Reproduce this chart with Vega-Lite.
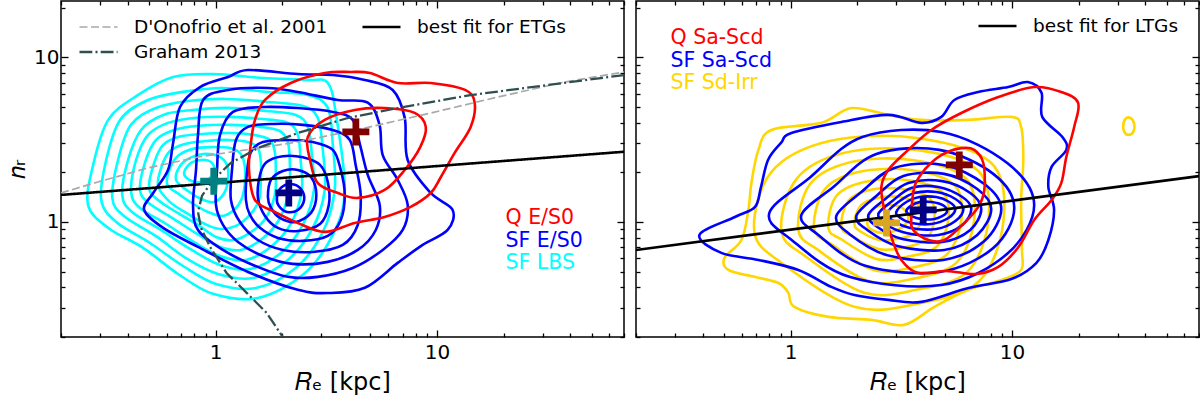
{
"$schema":"https://vega.github.io/schema/vega-lite/v6.json",
"background":"white",
"padding":{"left":4,"top":-3,"right":2,"bottom":0},
"spacing":8,
"config":{"font":"DejaVu Sans","view":{"stroke":"black","strokeWidth":1.5},
 "axis":{"labelFont":"DejaVu Sans","titleFont":"DejaVu Sans","labelColor":"black","titleColor":"black","tickColor":"black","tickWidth":1.3,"domain":false,"grid":false,"labelOverlap":false,"labelFlush":false,"titleFontWeight":"normal"},
 "legend":{"labelFont":"DejaVu Sans","labelColor":"black","padding":0,"labelLimit":0}},
"resolve":{"scale":{"color":"independent","stroke":"independent","strokeDash":"independent","strokeWidth":"independent","fill":"independent"},"legend":{"color":"independent","stroke":"independent","strokeDash":"independent"}},
"datasets":{
"lc":[
{"k":1,"x":0.265,"y":1.268},{"k":1,"x":0.2795,"y":2.22},{"k":1,"x":0.327,"y":4.17},{"k":1,"x":0.446,"y":5.91},{"k":1,"x":0.642,"y":7.6},{"k":1,"x":0.972,"y":7.92},{"k":1,"x":1.635,"y":7.5},{"k":1,"x":2.608,"y":7.3},{"k":1,"x":3.211,"y":7.0},{"k":1,"x":3.5,"y":4.47},{"k":1,"x":3.83,"y":1.564},{"k":1,"x":3.382,"y":0.834},{"k":1,"x":2.477,"y":0.477},{"k":1,"x":1.552,"y":0.345},{"k":1,"x":0.972,"y":0.366},{"k":1,"x":0.676,"y":0.483},{"k":1,"x":0.47,"y":0.696},{"k":1,"x":0.327,"y":0.92},
{"k":2,"x":0.304,"y":1.36},{"k":2,"x":0.32,"y":2.38},{"k":2,"x":0.37,"y":4.17},{"k":2,"x":0.495,"y":5.51},{"k":2,"x":0.712,"y":6.17},{"k":2,"x":1.079,"y":6.52},{"k":2,"x":1.722,"y":6.16},{"k":2,"x":2.608,"y":5.91},{"k":2,"x":3.211,"y":4.93},{"k":2,"x":3.382,"y":2.94},{"k":2,"x":3.45,"y":1.564},{"k":2,"x":3.048,"y":0.868},{"k":2,"x":2.3,"y":0.525},{"k":2,"x":1.52,"y":0.397},{"k":2,"x":1.003,"y":0.42},{"k":2,"x":0.712,"y":0.54},{"k":2,"x":0.505,"y":0.745},{"k":2,"x":0.355,"y":1.0},
{"k":3,"x":0.341,"y":1.4},{"k":3,"x":0.362,"y":2.38},{"k":3,"x":0.414,"y":3.89},{"k":3,"x":0.537,"y":4.92},{"k":3,"x":0.75,"y":5.43},{"k":3,"x":1.113,"y":5.59},{"k":3,"x":1.722,"y":5.36},{"k":3,"x":2.477,"y":5.07},{"k":3,"x":2.894,"y":4.29},{"k":3,"x":3.048,"y":2.74},{"k":3,"x":3.11,"y":1.564},{"k":3,"x":2.748,"y":0.92},{"k":3,"x":2.119,"y":0.588},{"k":3,"x":1.474,"y":0.456},{"k":3,"x":1.024,"y":0.483},{"k":3,"x":0.734,"y":0.603},{"k":3,"x":0.538,"y":0.82},{"k":3,"x":0.385,"y":1.088},
{"k":4,"x":0.378,"y":1.459},{"k":4,"x":0.402,"y":2.38},{"k":4,"x":0.46,"y":3.62},{"k":4,"x":0.579,"y":4.47},{"k":4,"x":0.79,"y":4.79},{"k":4,"x":1.137,"y":4.93},{"k":4,"x":1.686,"y":4.72},{"k":4,"x":2.3,"y":4.47},{"k":4,"x":2.608,"y":3.78},{"k":4,"x":2.72,"y":2.55},{"k":4,"x":2.78,"y":1.564},{"k":4,"x":2.477,"y":0.959},{"k":4,"x":1.97,"y":0.648},{"k":4,"x":1.43,"y":0.518},{"k":4,"x":1.045,"y":0.548},{"k":4,"x":0.766,"y":0.686},{"k":4,"x":0.566,"y":0.894},{"k":4,"x":0.419,"y":1.15},
{"k":5,"x":0.415,"y":1.52},{"k":5,"x":0.437,"y":2.38},{"k":5,"x":0.495,"y":3.38},{"k":5,"x":0.609,"y":4.0},{"k":5,"x":0.815,"y":4.3},{"k":5,"x":1.16,"y":4.35},{"k":5,"x":1.635,"y":4.22},{"k":5,"x":2.119,"y":4.0},{"k":5,"x":2.351,"y":3.38},{"k":5,"x":2.42,"y":2.38},{"k":5,"x":2.45,"y":1.564},{"k":5,"x":2.21,"y":1.0},{"k":5,"x":1.795,"y":0.715},{"k":5,"x":1.37,"y":0.588},{"k":5,"x":1.045,"y":0.621},{"k":5,"x":0.798,"y":0.755},{"k":5,"x":0.597,"y":0.972},{"k":5,"x":0.455,"y":1.215},
{"k":6,"x":0.455,"y":1.564},{"k":6,"x":0.48,"y":2.31},{"k":6,"x":0.538,"y":3.15},{"k":6,"x":0.649,"y":3.62},{"k":6,"x":0.841,"y":3.84},{"k":6,"x":1.17,"y":3.89},{"k":6,"x":1.585,"y":3.78},{"k":6,"x":1.95,"y":3.57},{"k":6,"x":2.119,"y":3.06},{"k":6,"x":2.165,"y":2.22},{"k":6,"x":2.14,"y":1.52},{"k":6,"x":1.93,"y":1.028},{"k":6,"x":1.618,"y":0.788},{"k":6,"x":1.3,"y":0.676},{"k":6,"x":1.035,"y":0.71},{"k":6,"x":0.824,"y":0.846},{"k":6,"x":0.635,"y":1.06},{"k":6,"x":0.5,"y":1.3},
{"k":7,"x":0.5,"y":1.61},{"k":7,"x":0.527,"y":2.28},{"k":7,"x":0.579,"y":2.94},{"k":7,"x":0.683,"y":3.29},{"k":7,"x":0.867,"y":3.42},{"k":7,"x":1.16,"y":3.47},{"k":7,"x":1.488,"y":3.38},{"k":7,"x":1.757,"y":3.15},{"k":7,"x":1.85,"y":2.66},{"k":7,"x":1.87,"y":2.01},{"k":7,"x":1.85,"y":1.459},{"k":7,"x":1.686,"y":1.058},{"k":7,"x":1.443,"y":0.868},{"k":7,"x":1.21,"y":0.777},{"k":7,"x":1.003,"y":0.81},{"k":7,"x":0.832,"y":0.959},{"k":7,"x":0.676,"y":1.13},{"k":7,"x":0.549,"y":1.36},
{"k":8,"x":0.549,"y":1.66},{"k":8,"x":0.573,"y":2.22},{"k":8,"x":0.622,"y":2.7},{"k":8,"x":0.719,"y":2.97},{"k":8,"x":0.886,"y":3.09},{"k":8,"x":1.137,"y":3.15},{"k":8,"x":1.399,"y":3.06},{"k":8,"x":1.552,"y":2.81},{"k":8,"x":1.6,"y":2.32},{"k":8,"x":1.6,"y":1.8},{"k":8,"x":1.57,"y":1.36},{"k":8,"x":1.428,"y":1.103},{"k":8,"x":1.235,"y":0.946},{"k":8,"x":1.045,"y":0.907},{"k":8,"x":0.895,"y":0.972},{"k":8,"x":0.75,"y":1.12},{"k":8,"x":0.622,"y":1.32},
{"k":9,"x":0.603,"y":1.7},{"k":9,"x":0.628,"y":2.19},{"k":9,"x":0.683,"y":2.55},{"k":9,"x":0.79,"y":2.78},{"k":9,"x":0.952,"y":2.85},{"k":9,"x":1.16,"y":2.81},{"k":9,"x":1.3,"y":2.58},{"k":9,"x":1.356,"y":2.15},{"k":9,"x":1.356,"y":1.73},{"k":9,"x":1.31,"y":1.38},{"k":9,"x":1.21,"y":1.183},{"k":9,"x":1.067,"y":1.088},{"k":9,"x":0.923,"y":1.15},{"k":9,"x":0.79,"y":1.29},{"k":9,"x":0.676,"y":1.49},
{"k":10,"x":0.662,"y":1.8},{"k":10,"x":0.69,"y":2.19},{"k":10,"x":0.766,"y":2.45},{"k":10,"x":0.877,"y":2.59},{"k":10,"x":1.024,"y":2.52},{"k":10,"x":1.125,"y":2.22},{"k":10,"x":1.137,"y":1.8},{"k":10,"x":1.09,"y":1.49},{"k":10,"x":0.982,"y":1.32},{"k":10,"x":0.858,"y":1.38},{"k":10,"x":0.75,"y":1.54},
{"k":11,"x":0.72,"y":2.0},{"k":11,"x":0.78,"y":2.3},{"k":11,"x":0.9,"y":2.38},{"k":11,"x":0.98,"y":2.2},{"k":11,"x":0.96,"y":1.9},{"k":11,"x":0.85,"y":1.75},{"k":11,"x":0.76,"y":1.8}
],
"lb":[
{"k":1,"x":0.475,"y":1.183},{"k":1,"x":0.522,"y":1.5},{"k":1,"x":0.609,"y":2.07},{"k":1,"x":0.642,"y":3.02},{"k":1,"x":0.69,"y":4.99},{"k":1,"x":0.85,"y":6.6},{"k":1,"x":1.137,"y":7.6},{"k":1,"x":1.399,"y":8.38},{"k":1,"x":2.351,"y":7.92},{"k":1,"x":3.382,"y":7.81},{"k":1,"x":4.72,"y":7.29},{"k":1,"x":6.309,"y":6.34},{"k":1,"x":7.15,"y":4.29},{"k":1,"x":7.373,"y":2.38},{"k":1,"x":9.37,"y":1.5},{"k":1,"x":11.77,"y":1.183},{"k":1,"x":11.17,"y":0.894},{"k":1,"x":8.616,"y":0.725},{"k":1,"x":6.645,"y":0.564},{"k":1,"x":4.72,"y":0.398},{"k":1,"x":3.211,"y":0.37},{"k":1,"x":2.351,"y":0.387},{"k":1,"x":1.399,"y":0.497},{"k":1,"x":0.832,"y":0.705},{"k":1,"x":0.579,"y":0.92},
{"k":2,"x":0.79,"y":1.268},{"k":2,"x":0.815,"y":2.07},{"k":2,"x":0.832,"y":3.38},{"k":2,"x":0.877,"y":5.51},{"k":2,"x":1.137,"y":6.34},{"k":2,"x":1.722,"y":6.52},{"k":2,"x":2.351,"y":6.16},{"k":2,"x":3.563,"y":5.51},{"k":2,"x":4.866,"y":5.31},{"k":2,"x":5.5,"y":3.89},{"k":2,"x":5.686,"y":2.55},{"k":2,"x":6.645,"y":1.8},{"k":2,"x":7.373,"y":1.268},{"k":2,"x":7.0,"y":0.894},{"k":2,"x":5.686,"y":0.676},{"k":2,"x":4.163,"y":0.525},{"k":2,"x":2.894,"y":0.464},{"k":2,"x":2.119,"y":0.464},{"k":2,"x":1.474,"y":0.548},{"k":2,"x":1.079,"y":0.676},{"k":2,"x":0.832,"y":0.894},
{"k":3,"x":1.003,"y":1.268},{"k":3,"x":1.014,"y":2.07},{"k":3,"x":1.046,"y":3.38},{"k":3,"x":1.197,"y":4.66},{"k":3,"x":1.635,"y":4.99},{"k":3,"x":2.351,"y":4.92},{"k":3,"x":3.382,"y":4.66},{"k":3,"x":4.163,"y":4.17},{"k":3,"x":4.49,"y":2.94},{"k":3,"x":4.866,"y":1.93},{"k":3,"x":5.51,"y":1.268},{"k":3,"x":5.29,"y":0.894},{"k":3,"x":4.385,"y":0.676},{"k":3,"x":3.211,"y":0.572},{"k":3,"x":2.232,"y":0.556},{"k":3,"x":1.635,"y":0.621},{"k":3,"x":1.261,"y":0.756},{"k":3,"x":1.079,"y":0.959},
{"k":4,"x":1.172,"y":1.36},{"k":4,"x":1.185,"y":2.07},{"k":4,"x":1.235,"y":3.15},{"k":4,"x":1.399,"y":3.78},{"k":4,"x":1.814,"y":3.94},{"k":4,"x":2.477,"y":3.89},{"k":4,"x":3.382,"y":3.62},{"k":4,"x":4.037,"y":3.15},{"k":4,"x":4.29,"y":2.22},{"k":4,"x":4.52,"y":1.459},{"k":4,"x":4.385,"y":0.959},{"k":4,"x":3.752,"y":0.725},{"k":4,"x":2.748,"y":0.657},{"k":4,"x":2.012,"y":0.676},{"k":4,"x":1.552,"y":0.777},{"k":4,"x":1.287,"y":1.0},
{"k":5,"x":1.37,"y":1.36},{"k":5,"x":1.385,"y":2.01},{"k":5,"x":1.443,"y":2.66},{"k":5,"x":1.635,"y":3.06},{"k":5,"x":2.119,"y":3.15},{"k":5,"x":2.748,"y":3.06},{"k":5,"x":3.382,"y":2.74},{"k":5,"x":3.675,"y":2.07},{"k":5,"x":3.83,"y":1.459},{"k":5,"x":3.675,"y":1.028},{"k":5,"x":3.211,"y":0.822},{"k":5,"x":2.477,"y":0.767},{"k":5,"x":1.91,"y":0.8},{"k":5,"x":1.585,"y":0.921},{"k":5,"x":1.428,"y":1.103},
{"k":6,"x":1.552,"y":1.4},{"k":6,"x":1.585,"y":1.93},{"k":6,"x":1.7,"y":2.31},{"k":6,"x":2.012,"y":2.51},{"k":6,"x":2.477,"y":2.47},{"k":6,"x":2.96,"y":2.22},{"k":6,"x":3.211,"y":1.75},{"k":6,"x":3.245,"y":1.268},{"k":6,"x":2.96,"y":0.972},{"k":6,"x":2.351,"y":0.881},{"k":6,"x":1.91,"y":0.92},{"k":6,"x":1.67,"y":1.088},
{"k":7,"x":1.722,"y":1.42},{"k":7,"x":1.777,"y":1.8},{"k":7,"x":2.012,"y":2.04},{"k":7,"x":2.351,"y":2.07},{"k":7,"x":2.7,"y":1.87},{"k":7,"x":2.85,"y":1.459},{"k":7,"x":2.7,"y":1.14},{"k":7,"x":2.3,"y":1.0},{"k":7,"x":1.95,"y":1.058},{"k":7,"x":1.777,"y":1.22},
{"k":8,"x":1.89,"y":1.4},{"k":8,"x":1.97,"y":1.61},{"k":8,"x":2.19,"y":1.7},{"k":8,"x":2.43,"y":1.585},{"k":8,"x":2.51,"y":1.36},{"k":8,"x":2.351,"y":1.183},{"k":8,"x":2.1,"y":1.15},{"k":8,"x":1.93,"y":1.25}
],
"lr":[
{"k":1,"x":1.443,"y":3.02},{"k":1,"x":1.505,"y":4.17},{"k":1,"x":1.67,"y":5.51},{"k":1,"x":2.186,"y":6.99},{"k":1,"x":3.11,"y":8.03},{"k":1,"x":4.07,"y":8.15},{"k":1,"x":4.98,"y":8.03},{"k":1,"x":6.645,"y":6.99},{"k":1,"x":9.37,"y":6.99},{"k":1,"x":13.4,"y":6.34},{"k":1,"x":14.8,"y":5.29},{"k":1,"x":14.2,"y":3.78},{"k":1,"x":12.0,"y":2.62},{"k":1,"x":10.4,"y":1.87},{"k":1,"x":9.37,"y":1.5},{"k":1,"x":7.6,"y":1.234},{"k":1,"x":5.8,"y":1.072},{"k":1,"x":4.25,"y":0.986},{"k":1,"x":3.11,"y":0.87},{"k":1,"x":2.351,"y":0.986},{"k":1,"x":1.85,"y":1.15},{"k":1,"x":1.505,"y":1.36},{"k":1,"x":1.414,"y":2.07},
{"k":2,"x":2.608,"y":3.28},{"k":2,"x":3.11,"y":4.17},{"k":2,"x":4.25,"y":4.79},{"k":2,"x":5.8,"y":4.92},{"k":2,"x":7.93,"y":4.6},{"k":2,"x":8.9,"y":3.78},{"k":2,"x":8.4,"y":2.85},{"k":2,"x":7.15,"y":2.07},{"k":2,"x":5.8,"y":1.564},{"k":2,"x":4.385,"y":1.4},{"k":2,"x":3.563,"y":1.5},{"k":2,"x":2.894,"y":1.72},{"k":2,"x":2.67,"y":2.38}
],
"ll":[
{"ln":"D'Onofrio et al. 2001","x":0.2,"y":1.5},{"ln":"D'Onofrio et al. 2001","x":0.294,"y":1.75},{"ln":"D'Onofrio et al. 2001","x":0.495,"y":2.13},{"ln":"D'Onofrio et al. 2001","x":0.832,"y":2.48},{"ln":"D'Onofrio et al. 2001","x":2.35,"y":3.06},{"ln":"D'Onofrio et al. 2001","x":4.72,"y":3.72},{"ln":"D'Onofrio et al. 2001","x":9.37,"y":4.59},{"ln":"D'Onofrio et al. 2001","x":18.8,"y":5.74},{"ln":"D'Onofrio et al. 2001","x":37.7,"y":7.08},{"ln":"D'Onofrio et al. 2001","x":70,"y":8.15},
{"ln":"Graham 2013","x":70,"y":7.81},{"ln":"Graham 2013","x":14.2,"y":5.9},{"ln":"Graham 2013","x":6.65,"y":4.92},{"ln":"Graham 2013","x":3.95,"y":4.28},{"ln":"Graham 2013","x":2.35,"y":3.47},{"ln":"Graham 2013","x":1.55,"y":2.81},{"ln":"Graham 2013","x":1.17,"y":2.28},{"ln":"Graham 2013","x":0.972,"y":1.8},{"ln":"Graham 2013","x":0.867,"y":1.44},{"ln":"Graham 2013","x":0.832,"y":1.15},{"ln":"Graham 2013","x":0.858,"y":0.92},{"ln":"Graham 2013","x":0.943,"y":0.705},{"ln":"Graham 2013","x":1.12,"y":0.49},{"ln":"Graham 2013","x":1.38,"y":0.371},{"ln":"Graham 2013","x":1.7,"y":0.28},{"ln":"Graham 2013","x":2.01,"y":0.2},
{"ln":"best fit for ETGs","x":0.2,"y":1.46},{"ln":"best fit for ETGs","x":70,"y":2.67}
],
"lx":[{"g":"SF LBS","x":0.98,"y":1.77},{"g":"SF E/S0","x":2.14,"y":1.5},{"g":"Q E/S0","x":4.3,"y":3.52}],
"ry":[
{"k":1,"x":0.502,"y":0.605},{"k":1,"x":0.599,"y":0.777},{"k":1,"x":0.644,"y":1.183},{"k":1,"x":0.6645,"y":1.725},{"k":1,"x":0.715,"y":2.74},{"k":1,"x":0.818,"y":3.62},{"k":1,"x":1.376,"y":4.0},{"k":1,"x":1.88,"y":4.92},{"k":1,"x":2.76,"y":4.47},{"k":1,"x":3.893,"y":4.17},{"k":1,"x":6.35,"y":4.17},{"k":1,"x":9.93,"y":4.35},{"k":1,"x":11.0,"y":3.78},{"k":1,"x":11.25,"y":2.38},{"k":1,"x":11.0,"y":1.36},{"k":1,"x":11.1,"y":0.676},{"k":1,"x":11.0,"y":0.511},{"k":1,"x":8.946,"y":0.444},{"k":1,"x":6.35,"y":0.387},{"k":1,"x":4.46,"y":0.305},{"k":1,"x":3.26,"y":0.237},{"k":1,"x":2.315,"y":0.254},{"k":1,"x":1.48,"y":0.265},{"k":1,"x":1.039,"y":0.305},{"k":1,"x":0.976,"y":0.371},{"k":1,"x":0.88,"y":0.426},{"k":1,"x":0.686,"y":0.464},{"k":1,"x":0.523,"y":0.511},
{"k":2,"x":0.686,"y":0.869},{"k":2,"x":0.818,"y":2.01},{"k":2,"x":1.496,"y":3.1},{"k":2,"x":3.7,"y":3.24},{"k":2,"x":8.06,"y":2.28},{"k":2,"x":9.14,"y":1.0},{"k":2,"x":7.04,"y":0.432},{"k":2,"x":3.7,"y":0.318},{"k":2,"x":1.94,"y":0.305},{"k":2,"x":0.937,"y":0.548},
{"k":3,"x":0.908,"y":0.882},{"k":3,"x":1.061,"y":1.82},{"k":3,"x":1.73,"y":2.62},{"k":3,"x":3.7,"y":2.74},{"k":3,"x":7.04,"y":2.04},{"k":3,"x":7.82,"y":1.014},{"k":3,"x":6.28,"y":0.497},{"k":3,"x":3.7,"y":0.387},{"k":3,"x":2.152,"y":0.371},{"k":3,"x":1.177,"y":0.613},
{"k":4,"x":1.083,"y":0.894},{"k":4,"x":1.225,"y":1.7},{"k":4,"x":1.88,"y":2.31},{"k":4,"x":3.54,"y":2.38},{"k":4,"x":6.15,"y":1.85},{"k":4,"x":6.75,"y":1.028},{"k":4,"x":5.6,"y":0.564},{"k":4,"x":3.54,"y":0.45},{"k":4,"x":2.244,"y":0.438},{"k":4,"x":1.348,"y":0.667},
{"k":5,"x":1.277,"y":0.907},{"k":5,"x":1.417,"y":1.564},{"k":5,"x":2.018,"y":2.01},{"k":5,"x":3.47,"y":2.07},{"k":5,"x":5.49,"y":1.68},{"k":5,"x":5.902,"y":1.028},{"k":5,"x":5.05,"y":0.63},{"k":5,"x":3.47,"y":0.525},{"k":5,"x":2.363,"y":0.511},{"k":5,"x":1.543,"y":0.725},
{"k":6,"x":1.48,"y":0.92},{"k":6,"x":1.608,"y":1.438},{"k":6,"x":2.152,"y":1.75},{"k":6,"x":3.33,"y":1.8},{"k":6,"x":4.84,"y":1.52},{"k":6,"x":5.16,"y":1.043},{"k":6,"x":4.55,"y":0.705},{"k":6,"x":3.33,"y":0.613},{"k":6,"x":2.438,"y":0.596},{"k":6,"x":1.712,"y":0.777},
{"k":7,"x":1.694,"y":0.946},{"k":7,"x":1.82,"y":1.341},{"k":7,"x":2.267,"y":1.564},{"k":7,"x":3.162,"y":1.585},{"k":7,"x":4.23,"y":1.4},{"k":7,"x":4.46,"y":1.043},{"k":7,"x":4.06,"y":0.777},{"k":7,"x":3.162,"y":0.695},{"k":7,"x":2.49,"y":0.686},{"k":7,"x":1.88,"y":0.822},
{"k":8,"x":1.94,"y":0.972},{"k":8,"x":2.064,"y":1.25},{"k":8,"x":2.464,"y":1.4},{"k":8,"x":3.097,"y":1.417},{"k":8,"x":3.735,"y":1.286},{"k":8,"x":3.893,"y":1.057},{"k":8,"x":3.62,"y":0.858},{"k":8,"x":3.03,"y":0.788},{"k":8,"x":2.515,"y":0.777},{"k":8,"x":2.086,"y":0.869},
{"k":9,"x":2.22,"y":1.0},{"k":9,"x":2.363,"y":1.2},{"k":9,"x":2.734,"y":1.268},{"k":9,"x":3.196,"y":1.216},{"k":9,"x":3.4,"y":1.043},{"k":9,"x":3.097,"y":0.907},{"k":9,"x":2.623,"y":0.858},{"k":9,"x":2.29,"y":0.907},
{"k":10,"x":31.8,"y":3.83},{"k":10,"x":32.5,"y":4.22},{"k":10,"x":34.2,"y":4.29},{"k":10,"x":35.7,"y":3.94},{"k":10,"x":35.3,"y":3.52},{"k":10,"x":33.5,"y":3.38},{"k":10,"x":32.2,"y":3.52}
],
"rb":[
{"k":1,"x":0.387,"y":0.834},{"k":1,"x":0.56,"y":1.072},{"k":1,"x":0.69,"y":1.234},{"k":1,"x":0.734,"y":1.63},{"k":1,"x":0.79,"y":2.38},{"k":1,"x":0.904,"y":3.02},{"k":1,"x":1.007,"y":3.47},{"k":1,"x":1.694,"y":4.05},{"k":1,"x":2.76,"y":4.47},{"k":1,"x":3.893,"y":4.0},{"k":1,"x":4.793,"y":4.35},{"k":1,"x":5.49,"y":5.51},{"k":1,"x":7.04,"y":6.16},{"k":1,"x":9.62,"y":6.6},{"k":1,"x":11.8,"y":7.08},{"k":1,"x":13.6,"y":6.1},{"k":1,"x":13.7,"y":4.35},{"k":1,"x":16.9,"y":3.28},{"k":1,"x":17.6,"y":2.74},{"k":1,"x":15.1,"y":2.16},{"k":1,"x":14.6,"y":1.63},{"k":1,"x":15.5,"y":1.183},{"k":1,"x":14.6,"y":0.777},{"k":1,"x":12.9,"y":0.564},{"k":1,"x":9.93,"y":0.45},{"k":1,"x":6.35,"y":0.397},{"k":1,"x":3.893,"y":0.327},{"k":1,"x":2.76,"y":0.336},{"k":1,"x":1.94,"y":0.36},{"k":1,"x":1.527,"y":0.403},{"k":1,"x":1.083,"y":0.511},{"k":1,"x":0.715,"y":0.588},{"k":1,"x":0.486,"y":0.649},
{"k":2,"x":0.801,"y":1.134},{"k":2,"x":1.215,"y":1.85},{"k":2,"x":2.107,"y":3.28},{"k":2,"x":4.793,"y":3.52},{"k":2,"x":9.52,"y":2.28},{"k":2,"x":12.6,"y":1.268},{"k":2,"x":9.52,"y":0.64},{"k":2,"x":4.793,"y":0.414},{"k":2,"x":1.84,"y":0.464},{"k":2,"x":0.997,"y":0.788},
{"k":3,"x":1.118,"y":1.103},{"k":3,"x":1.559,"y":1.63},{"k":3,"x":2.438,"y":2.59},{"k":3,"x":4.7,"y":2.74},{"k":3,"x":8.23,"y":1.96},{"k":3,"x":10.24,"y":1.216},{"k":3,"x":8.23,"y":0.695},{"k":3,"x":4.7,"y":0.497},{"k":3,"x":2.175,"y":0.541},{"k":3,"x":1.334,"y":0.834},
{"k":4,"x":1.608,"y":1.088},{"k":4,"x":2.086,"y":1.52},{"k":4,"x":2.94,"y":2.13},{"k":4,"x":4.89,"y":2.22},{"k":4,"x":7.5,"y":1.7},{"k":4,"x":8.946,"y":1.2},{"k":4,"x":7.5,"y":0.767},{"k":4,"x":4.89,"y":0.588},{"k":4,"x":2.71,"y":0.63},{"k":4,"x":1.841,"y":0.846},
{"k":5,"x":1.98,"y":1.088},{"k":5,"x":2.438,"y":1.438},{"k":5,"x":3.23,"y":1.9},{"k":5,"x":4.94,"y":1.96},{"k":5,"x":6.97,"y":1.585},{"k":5,"x":8.06,"y":1.2},{"k":5,"x":6.97,"y":0.834},{"k":5,"x":4.94,"y":0.676},{"k":5,"x":3.03,"y":0.715},{"k":5,"x":2.22,"y":0.894},
{"k":6,"x":2.244,"y":1.103},{"k":6,"x":2.677,"y":1.379},{"k":6,"x":3.4,"y":1.725},{"k":6,"x":4.84,"y":1.77},{"k":6,"x":6.48,"y":1.5},{"k":6,"x":7.265,"y":1.2},{"k":6,"x":6.48,"y":0.894},{"k":6,"x":4.84,"y":0.756},{"k":6,"x":3.196,"y":0.788},{"k":6,"x":2.464,"y":0.932},
{"k":7,"x":2.49,"y":1.118},{"k":7,"x":2.88,"y":1.341},{"k":7,"x":3.509,"y":1.61},{"k":7,"x":4.65,"y":1.63},{"k":7,"x":5.965,"y":1.417},{"k":7,"x":6.549,"y":1.2},{"k":7,"x":5.965,"y":0.959},{"k":7,"x":4.65,"y":0.834},{"k":7,"x":3.33,"y":0.858},{"k":7,"x":2.677,"y":0.972},
{"k":8,"x":2.734,"y":1.134},{"k":8,"x":3.064,"y":1.322},{"k":8,"x":3.62,"y":1.5},{"k":8,"x":4.55,"y":1.52},{"k":8,"x":5.55,"y":1.379},{"k":8,"x":6.03,"y":1.2},{"k":8,"x":5.55,"y":1.014},{"k":8,"x":4.55,"y":0.907},{"k":8,"x":3.47,"y":0.92},{"k":8,"x":2.91,"y":1.014},
{"k":9,"x":3.0,"y":1.15},{"k":9,"x":3.33,"y":1.322},{"k":9,"x":3.81,"y":1.417},{"k":9,"x":4.55,"y":1.417},{"k":9,"x":5.21,"y":1.322},{"k":9,"x":5.55,"y":1.2},{"k":9,"x":5.16,"y":1.057},{"k":9,"x":4.32,"y":0.972},{"k":9,"x":3.509,"y":0.986},{"k":9,"x":3.13,"y":1.057},
{"k":10,"x":3.33,"y":1.166},{"k":10,"x":3.7,"y":1.304},{"k":10,"x":4.32,"y":1.322},{"k":10,"x":4.94,"y":1.25},{"k":10,"x":5.05,"y":1.134},{"k":10,"x":4.46,"y":1.043},{"k":10,"x":3.7,"y":1.057}
],
"rr":[
{"k":1,"x":2.568,"y":1.63},{"k":1,"x":2.76,"y":2.07},{"k":1,"x":3.4,"y":2.74},{"k":1,"x":4.32,"y":3.62},{"k":1,"x":5.902,"y":4.59},{"k":1,"x":8.67,"y":5.74},{"k":1,"x":12.6,"y":6.6},{"k":1,"x":16.7,"y":6.16},{"k":1,"x":19.9,"y":5.29},{"k":1,"x":19.1,"y":3.78},{"k":1,"x":17.6,"y":2.48},{"k":1,"x":16.7,"y":1.72},{"k":1,"x":15.1,"y":1.36},{"k":1,"x":12.6,"y":1.028},{"k":1,"x":10.7,"y":0.705},{"k":1,"x":8.67,"y":0.533},{"k":1,"x":6.89,"y":0.483},{"k":1,"x":5.05,"y":0.504},{"k":1,"x":3.77,"y":0.49},{"k":1,"x":3.162,"y":0.588},{"k":1,"x":2.85,"y":0.81},{"k":1,"x":2.65,"y":1.183},
{"k":2,"x":3.509,"y":1.072},{"k":2,"x":3.62,"y":1.63},{"k":2,"x":4.02,"y":2.07},{"k":2,"x":4.793,"y":2.55},{"k":2,"x":5.902,"y":2.81},{"k":2,"x":6.75,"y":2.74},{"k":2,"x":7.42,"y":2.28},{"k":2,"x":7.5,"y":1.564},{"k":2,"x":7.04,"y":1.234},{"k":2,"x":6.09,"y":0.986},{"k":2,"x":4.95,"y":0.777},{"k":2,"x":4.19,"y":0.777},{"k":2,"x":3.58,"y":0.894}
],
"rl":[{"ln":"best fit for LTGs","x":0.2,"y":0.676},{"ln":"best fit for LTGs","x":70,"y":1.9}],
"rx":[{"g":"SF Sd-Irr","x":2.71,"y":0.986},{"g":"SF Sa-Scd","x":3.97,"y":1.183},{"g":"Q Sa-Scd","x":5.78,"y":2.22}]
},
"hconcat":[
{"width":563,"height":336,
 "resolve":{"axis":{"x":"independent","y":"independent"}},
 "layer":[
  {"data":{"name":"lc"},"mark":{"type":"line","interpolate":"cardinal-closed","strokeWidth":2.6,"clip":true},
   "encoding":{
    "x":{"field":"x","type":"quantitative","scale":{"type":"log","domain":[0.2,70],"nice":false},
      "axis":{"orient":"bottom","values":[0.2,0.3,0.4,0.5,0.6,0.7,0.8,0.9,1,2,3,4,5,6,7,8,9,10,20,30,40,50,60,70],"labelExpr":"datum.value == 1 ? '1' : datum.value == 10 ? '10' : ''","tickSize":{"condition":{"test":"datum.value == 1 || datum.value == 10","value":-7},"value":-4},"labelFontSize":20,"labelPadding":12,"title":"𝑅ₑ [kpc]","titleFontSize":24,"titlePadding":5}},
    "y":{"field":"y","type":"quantitative","scale":{"type":"log","domain":[0.2,22],"nice":false},
      "axis":{"orient":"left","values":[0.2,0.3,0.4,0.5,0.6,0.7,0.8,0.9,1,2,3,4,5,6,7,8,9,10,20],"labelExpr":"datum.value == 1 ? '1' : datum.value == 10 ? '10' : ''","tickSize":{"condition":{"test":"datum.value == 1 || datum.value == 10","value":-7},"value":-4},"labelFontSize":20,"labelPadding":9,"title":"𝑛ᵣ","titleFontSize":24,"titlePadding":4}},
    "detail":{"field":"k","type":"nominal"},
    "order":{"value":null},
    "color":{"datum":"SF LBS","type":"nominal","scale":{"domain":["Q E/S0","SF E/S0","SF LBS"],"range":["#ff0000","#0000ff","#00ffff"]},
      "legend":{"orient":"none","legendX":424,"legendY":207,"title":null,"symbolOpacity":0,"symbolSize":1,"symbolStrokeWidth":0,"labelOffset":0,"labelFontSize":20.5,"rowPadding":1.5,"labelColor":{"expr":"datum.label == 'Q E/S0' ? '#ff0000' : datum.label == 'SF E/S0' ? '#0000ff' : '#00ffff'"}}}
   }},
  {"data":{"name":"lb"},"mark":{"type":"line","interpolate":"cardinal-closed","strokeWidth":2.6,"clip":true},
   "encoding":{
    "x":{"field":"x","type":"quantitative","scale":{"type":"log","domain":[0.2,70],"nice":false},
      "axis":{"orient":"top","values":[0.2,0.3,0.4,0.5,0.6,0.7,0.8,0.9,1,2,3,4,5,6,7,8,9,10,20,30,40,50,60,70],"labels":false,"minExtent":0,"maxExtent":0,"tickSize":{"condition":{"test":"datum.value == 1 || datum.value == 10","value":-7},"value":-4},"title":null}},
    "y":{"field":"y","type":"quantitative","scale":{"type":"log","domain":[0.2,22],"nice":false},
      "axis":{"orient":"right","values":[0.2,0.3,0.4,0.5,0.6,0.7,0.8,0.9,1,2,3,4,5,6,7,8,9,10,20],"labels":false,"minExtent":0,"maxExtent":0,"tickSize":{"condition":{"test":"datum.value == 1 || datum.value == 10","value":-7},"value":-4},"title":null}},
    "detail":{"field":"k","type":"nominal"},
    "order":{"value":null},
    "color":{"datum":"SF E/S0","type":"nominal"}
   }},
  {"data":{"name":"lr"},"mark":{"type":"line","interpolate":"cardinal-closed","strokeWidth":2.6,"clip":true},
   "encoding":{
    "x":{"field":"x","type":"quantitative","axis":null},
    "y":{"field":"y","type":"quantitative","axis":null},
    "detail":{"field":"k","type":"nominal"},
    "order":{"value":null},
    "color":{"datum":"Q E/S0","type":"nominal"}
   }},
  {"data":{"name":"ll"},"mark":{"type":"line","clip":true},
   "encoding":{
    "x":{"field":"x","type":"quantitative","axis":null},
    "y":{"field":"y","type":"quantitative","axis":null},
    "order":{"value":null},
    "stroke":{"field":"ln","type":"nominal","scale":{"domain":["D'Onofrio et al. 2001","Graham 2013","best fit for ETGs"],"range":["#a9a9a9","#2f4f4f","#000000"]},
      "legend":{"orient":"none","legendX":17,"legendY":16,"title":null,"columns":2,"columnPadding":33,"rowPadding":5,"clipHeight":20,"symbolType":"stroke","symbolSize":1444,"symbolStrokeWidth":2.2,"labelFontSize":18.5,"labelOffset":15}},
    "strokeDash":{"field":"ln","type":"nominal","scale":{"domain":["D'Onofrio et al. 2001","Graham 2013","best fit for ETGs"],"range":[[8,3.5],[12.8,3.2,2,3.2],[1,0]]}},
    "strokeWidth":{"field":"ln","type":"nominal","scale":{"type":"ordinal","domain":["D'Onofrio et al. 2001","Graham 2013","best fit for ETGs"],"range":[1.7,2.3,2.6]},"legend":null}
   }},
  {"data":{"name":"lx"},"mark":{"type":"point","filled":true,"opacity":1,"size":729,"shape":"M -1 -0.25 L -0.25 -0.25 L -0.25 -1 L 0.25 -1 L 0.25 -0.25 L 1 -0.25 L 1 0.25 L 0.25 0.25 L 0.25 1 L -0.25 1 L -0.25 0.25 L -1 0.25 Z"},
   "encoding":{
    "x":{"field":"x","type":"quantitative","axis":null},
    "y":{"field":"y","type":"quantitative","axis":null},
    "fill":{"field":"g","type":"nominal","scale":{"domain":["SF LBS","SF E/S0","Q E/S0"],"range":["#008080","#000080","#800000"]},"legend":null}
   }}
 ]},
{"width":563,"height":336,
 "resolve":{"axis":{"x":"independent","y":"independent"}},
 "layer":[
  {"data":{"name":"ry"},"mark":{"type":"line","interpolate":"cardinal-closed","strokeWidth":2.6,"clip":true},
   "encoding":{
    "x":{"field":"x","type":"quantitative","scale":{"type":"log","domain":[0.2,70],"nice":false},
      "axis":{"orient":"bottom","values":[0.2,0.3,0.4,0.5,0.6,0.7,0.8,0.9,1,2,3,4,5,6,7,8,9,10,20,30,40,50,60,70],"labelExpr":"datum.value == 1 ? '1' : datum.value == 10 ? '10' : ''","tickSize":{"condition":{"test":"datum.value == 1 || datum.value == 10","value":-7},"value":-4},"labelFontSize":20,"labelPadding":12,"title":"𝑅ₑ [kpc]","titleFontSize":24,"titlePadding":5}},
    "y":{"field":"y","type":"quantitative","scale":{"type":"log","domain":[0.2,22],"nice":false},
      "axis":{"orient":"left","values":[0.2,0.3,0.4,0.5,0.6,0.7,0.8,0.9,1,2,3,4,5,6,7,8,9,10,20],"labels":false,"minExtent":0,"maxExtent":0,"tickSize":{"condition":{"test":"datum.value == 1 || datum.value == 10","value":-7},"value":-4},"title":null}},
    "detail":{"field":"k","type":"nominal"},
    "order":{"value":null},
    "color":{"datum":"SF Sd-Irr","type":"nominal","scale":{"domain":["Q Sa-Scd","SF Sa-Scd","SF Sd-Irr"],"range":["#ff0000","#0000ff","#ffd700"]},
      "legend":{"orient":"none","legendX":14,"legendY":27,"title":null,"symbolOpacity":0,"symbolSize":1,"symbolStrokeWidth":0,"labelOffset":0,"labelFontSize":20.5,"rowPadding":1.5,"labelColor":{"expr":"datum.label == 'Q Sa-Scd' ? '#ff0000' : datum.label == 'SF Sa-Scd' ? '#0000ff' : '#ffd700'"}}}
   }},
  {"data":{"name":"rb"},"mark":{"type":"line","interpolate":"cardinal-closed","strokeWidth":2.6,"clip":true},
   "encoding":{
    "x":{"field":"x","type":"quantitative","scale":{"type":"log","domain":[0.2,70],"nice":false},
      "axis":{"orient":"top","values":[0.2,0.3,0.4,0.5,0.6,0.7,0.8,0.9,1,2,3,4,5,6,7,8,9,10,20,30,40,50,60,70],"labels":false,"minExtent":0,"maxExtent":0,"tickSize":{"condition":{"test":"datum.value == 1 || datum.value == 10","value":-7},"value":-4},"title":null}},
    "y":{"field":"y","type":"quantitative","scale":{"type":"log","domain":[0.2,22],"nice":false},
      "axis":{"orient":"right","values":[0.2,0.3,0.4,0.5,0.6,0.7,0.8,0.9,1,2,3,4,5,6,7,8,9,10,20],"labels":false,"minExtent":0,"maxExtent":0,"tickSize":{"condition":{"test":"datum.value == 1 || datum.value == 10","value":-7},"value":-4},"title":null}},
    "detail":{"field":"k","type":"nominal"},
    "order":{"value":null},
    "color":{"datum":"SF Sa-Scd","type":"nominal"}
   }},
  {"data":{"name":"rr"},"mark":{"type":"line","interpolate":"cardinal-closed","strokeWidth":2.6,"clip":true},
   "encoding":{
    "x":{"field":"x","type":"quantitative","axis":null},
    "y":{"field":"y","type":"quantitative","axis":null},
    "detail":{"field":"k","type":"nominal"},
    "order":{"value":null},
    "color":{"datum":"Q Sa-Scd","type":"nominal"}
   }},
  {"data":{"name":"rl"},"mark":{"type":"line","clip":true,"strokeWidth":2.6},
   "encoding":{
    "x":{"field":"x","type":"quantitative","axis":null},
    "y":{"field":"y","type":"quantitative","axis":null},
    "stroke":{"field":"ln","type":"nominal","scale":{"domain":["best fit for LTGs"],"range":["#000000"]},
      "legend":{"orient":"none","legendX":341,"legendY":15,"title":null,"clipHeight":20,"symbolType":"stroke","symbolSize":1444,"symbolStrokeWidth":2.6,"labelFontSize":18.5,"labelOffset":15}}
   }},
  {"data":{"name":"rx"},"mark":{"type":"point","filled":true,"opacity":1,"size":729,"shape":"M -1 -0.25 L -0.25 -0.25 L -0.25 -1 L 0.25 -1 L 0.25 -0.25 L 1 -0.25 L 1 0.25 L 0.25 0.25 L 0.25 1 L -0.25 1 L -0.25 0.25 L -1 0.25 Z"},
   "encoding":{
    "x":{"field":"x","type":"quantitative","axis":null},
    "y":{"field":"y","type":"quantitative","axis":null},
    "fill":{"field":"g","type":"nominal","scale":{"domain":["SF Sd-Irr","SF Sa-Scd","Q Sa-Scd"],"range":["#daa520","#000080","#800000"]},"legend":null}
   }}
 ]}
]
}
